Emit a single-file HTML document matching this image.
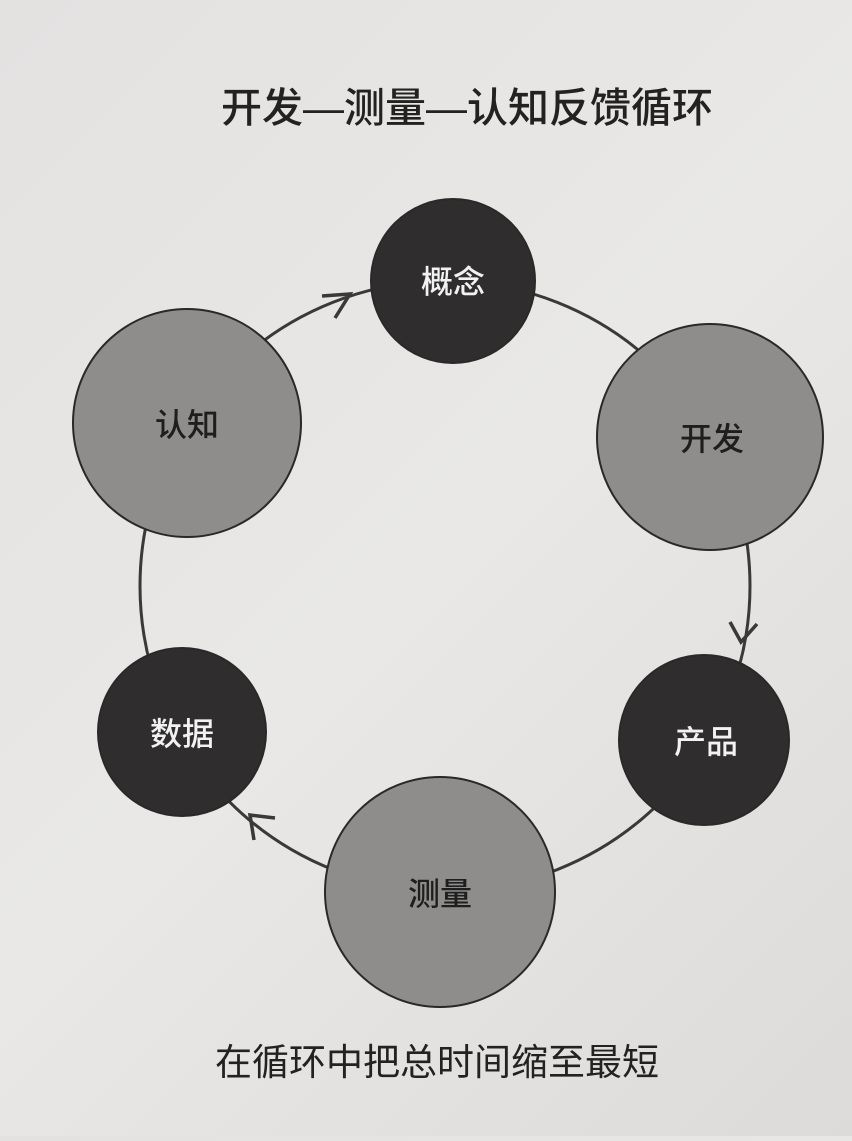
<!DOCTYPE html>
<html><head><meta charset="utf-8"><style>
html,body{margin:0;padding:0}
body{width:852px;height:1136px;overflow:hidden;background:linear-gradient(135deg,#e4e2e1 0%,#e9e8e6 50%,#dddbd9 100%);font-family:"Liberation Sans","Noto Sans CJK SC",sans-serif}
</style></head><body>
<svg width="852" height="1136" viewBox="0 0 852 1136" xmlns="http://www.w3.org/2000/svg">
<text x="467" y="122" text-anchor="middle" font-size="41" font-family="Liberation Sans, Noto Sans CJK SC, sans-serif" fill="#222" font-weight="500">开发—测量—认知反馈循环</text>
<circle cx="445" cy="586" r="305" fill="none" stroke="#3a3838" stroke-width="3"/>
<polyline points="322,296 350,294 335,318" fill="none" stroke="#3a3838" stroke-width="3.5"/>
<polyline points="730,622 741,642 757,624" fill="none" stroke="#3a3838" stroke-width="3.5"/>
<polyline points="254,840 250,815 275,818" fill="none" stroke="#3a3838" stroke-width="3.5"/>
<g stroke="#2a2828" stroke-width="2">
<circle cx="453" cy="281" r="82" fill="#2f2d2d"/>
<circle cx="710" cy="437" r="113" fill="#8f8d8c"/>
<circle cx="704" cy="740" r="85" fill="#2f2d2d"/>
<circle cx="440" cy="892" r="115" fill="#8f8d8c"/>
<circle cx="182" cy="732" r="84" fill="#2f2d2d"/>
<circle cx="187" cy="423" r="114" fill="#8f8d8c"/>
</g>
<g font-size="32" text-anchor="middle" font-family="Liberation Sans, Noto Sans CJK SC, sans-serif" font-weight="500">
<text x="453" y="293" fill="#f2f2f2">概念</text>
<text x="712" y="450" fill="#1e1e1e">开发</text>
<text x="706" y="753" fill="#f2f2f2">产品</text>
<text x="440" y="905" fill="#1e1e1e">测量</text>
<text x="182" y="745" fill="#f2f2f2">数据</text>
<text x="187" y="436" fill="#1e1e1e">认知</text>
</g>
<text x="437" y="1075" text-anchor="middle" font-size="37" font-family="Liberation Sans, Noto Sans CJK SC, sans-serif" fill="#222">在循环中把总时间缩至最短</text>
</svg>
</body></html>
